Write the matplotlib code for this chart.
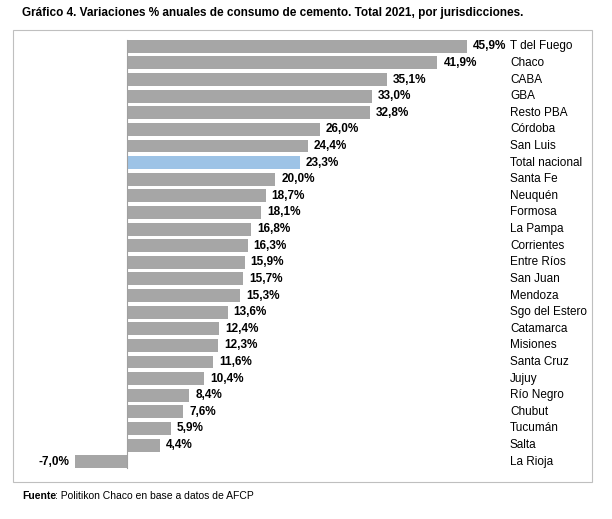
import matplotlib
matplotlib.use('Agg')
import matplotlib.pyplot as plt
from matplotlib.patches import Rectangle

plt.rcParams['font.family'] = ['Liberation Sans', 'DejaVu Sans']

jurisdicciones = ['T del Fuego', 'Chaco', 'CABA', 'GBA', 'Resto PBA', 'Córdoba', 'San Luis',
                  'Total nacional', 'Santa Fe', 'Neuquén', 'Formosa', 'La Pampa', 'Corrientes',
                  'Entre Ríos', 'San Juan', 'Mendoza', 'Sgo del Estero', 'Catamarca', 'Misiones',
                  'Santa Cruz', 'Jujuy', 'Río Negro', 'Chubut', 'Tucumán', 'Salta', 'La Rioja']
variacion = [45.9, 41.9, 35.1, 33.0, 32.8, 26.0, 24.4, 23.3, 20.0, 18.7, 18.1, 16.8, 16.3,
             15.9, 15.7, 15.3, 13.6, 12.4, 12.3, 11.6, 10.4, 8.4, 7.6, 5.9, 4.4, -7.0]

W, H = 612, 519
fig = plt.figure(figsize=(W / 100, H / 100), dpi=100)

# chart frame
fig.patches.append(Rectangle((13 / W, 1 - 482 / H), 579 / W, 452 / H, transform=fig.transFigure,
                             fill=False, edgecolor='#bfbfbf', lw=0.8))

ax = fig.add_axes([20 / W, 1 - 470 / H, 580 / W, 432 / H])
px_per_unit = 7.41
x0 = (20 - 127) / px_per_unit
x1 = (600 - 127) / px_per_unit
ax.set_xlim(x0, x1)
ax.set_ylim(len(variacion) - 0.5, -0.5)
ax.axis('off')

colors = ['#9DC3E6' if j == 'Total nacional' else '#A6A6A6' for j in jurisdicciones]
ys = range(len(variacion))
ax.barh(ys, variacion, height=0.78, color=colors)
ax.axvline(0, color='#a0a0a0', lw=0.8, ymin=0.005, ymax=0.995)

name_x = (510 - 127) / px_per_unit
for y, v, name in zip(ys, variacion, jurisdicciones):
    lab = f'{v:.1f}%'.replace('.', ',')
    if v >= 0:
        ax.text(v + 0.8, y, lab, va='center', ha='left', fontsize=8.5, fontweight='bold')
    else:
        ax.text(v - 0.8, y, lab, va='center', ha='right', fontsize=8.5, fontweight='bold')
    ax.text(name_x, y, name, va='center', ha='left', fontsize=8.5)

fig.text(22 / W, 1 - 13 / H, 'Gráfico 4. Variaciones % anuales de consumo de cemento. Total 2021, por jurisdicciones.',
         fontsize=8.5, fontweight='bold', va='center')
t = fig.text(22 / W, 1 - 496 / H, 'Fuente', fontsize=7.5, fontweight='bold', va='center')
fig.text(55 / W, 1 - 496 / H, ': Politikon Chaco en base a datos de AFCP', fontsize=7.5, va='center')

fig.savefig('out.png', dpi=100)
